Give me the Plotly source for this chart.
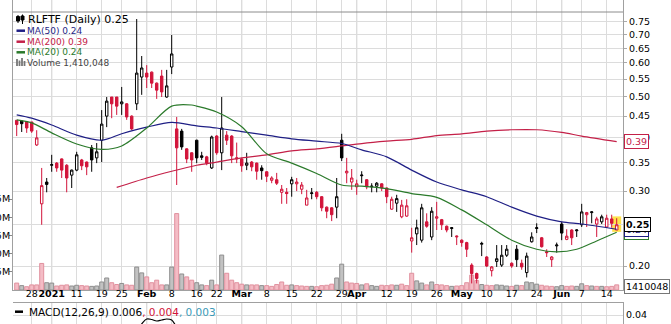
import numpy as np
import pandas as pd
import plotly.graph_objects as go

# ---------------- data ----------------
holidays = ["2020-12-25", "2021-01-01", "2021-01-18", "2021-02-15", "2021-04-02", "2021-05-31"]
dates = pd.bdate_range("2020-12-22", "2021-06-16", freq="C", holidays=holidays)

open_ = [0.440, 0.438, 0.437, 0.436, 0.385, 0.280, 0.315, 0.345, 0.349, 0.357,
         0.345, 0.327, 0.336, 0.355, 0.351, 0.379, 0.359, 0.395, 0.450, 0.499,
         0.499, 0.481, 0.481, 0.450, 0.481, 0.556, 0.568, 0.571, 0.538, 0.559,
         0.499, 0.587, 0.420, 0.415, 0.377, 0.369, 0.395, 0.363, 0.361, 0.340,
         0.404, 0.369, 0.406, 0.404, 0.357, 0.357, 0.345, 0.351, 0.349, 0.340,
         0.333, 0.318, 0.319, 0.298, 0.298, 0.312, 0.312, 0.303, 0.278, 0.296,
         0.298, 0.291, 0.275, 0.274, 0.275, 0.395, 0.331, 0.315, 0.307, 0.326,
         0.319, 0.307, 0.308, 0.312, 0.305, 0.272, 0.281, 0.261, 0.262, 0.229,
         0.238, 0.230, 0.254, 0.234, 0.259, 0.257, 0.248, 0.245, 0.234, 0.230,
         0.227, 0.201, 0.192, 0.225, 0.210, 0.195, 0.205, 0.201, 0.212, 0.203,
         0.219, 0.203, 0.193, 0.228, 0.245, 0.233, 0.216, 0.207, 0.223, 0.251,
         0.231, 0.243, 0.242, 0.250, 0.264, 0.267, 0.251, 0.254, 0.247, 0.258,
         0.243]
high_ = [0.440, 0.438, 0.438, 0.436, 0.417, 0.340, 0.322, 0.365, 0.351, 0.358,
         0.347, 0.337, 0.371, 0.357, 0.352, 0.385, 0.389, 0.465, 0.499, 0.499,
         0.499, 0.527, 0.483, 0.452, 0.761, 0.623, 0.593, 0.573, 0.540, 0.578,
         0.578, 0.698, 0.448, 0.420, 0.378, 0.370, 0.396, 0.371, 0.363, 0.405,
         0.406, 0.499, 0.415, 0.406, 0.390, 0.359, 0.369, 0.353, 0.350, 0.345,
         0.334, 0.325, 0.331, 0.310, 0.305, 0.324, 0.322, 0.315, 0.302, 0.305,
         0.300, 0.292, 0.276, 0.275, 0.322, 0.409, 0.359, 0.338, 0.319, 0.334,
         0.320, 0.313, 0.315, 0.313, 0.306, 0.291, 0.294, 0.286, 0.287, 0.246,
         0.257, 0.280, 0.266, 0.275, 0.283, 0.258, 0.249, 0.247, 0.236, 0.231,
         0.228, 0.203, 0.193, 0.228, 0.211, 0.200, 0.224, 0.224, 0.224, 0.204,
         0.224, 0.207, 0.215, 0.240, 0.252, 0.234, 0.219, 0.211, 0.227, 0.254,
         0.244, 0.244, 0.244, 0.280, 0.268, 0.269, 0.261, 0.264, 0.264, 0.264,
         0.259]
low_ = [0.404, 0.413, 0.411, 0.411, 0.383, 0.250, 0.298, 0.333, 0.333, 0.322,
        0.298, 0.305, 0.334, 0.336, 0.327, 0.333, 0.349, 0.351, 0.424, 0.445,
        0.453, 0.453, 0.441, 0.417, 0.465, 0.505, 0.524, 0.524, 0.494, 0.499,
        0.497, 0.565, 0.310, 0.375, 0.349, 0.333, 0.349, 0.355, 0.345, 0.338,
        0.365, 0.336, 0.385, 0.349, 0.349, 0.333, 0.336, 0.334, 0.319, 0.319,
        0.315, 0.313, 0.310, 0.280, 0.280, 0.291, 0.300, 0.295, 0.278, 0.287,
        0.287, 0.269, 0.259, 0.255, 0.259, 0.353, 0.313, 0.302, 0.294, 0.313,
        0.303, 0.298, 0.298, 0.300, 0.281, 0.271, 0.268, 0.259, 0.261, 0.215,
        0.224, 0.227, 0.246, 0.230, 0.243, 0.243, 0.240, 0.234, 0.224, 0.222,
        0.210, 0.182, 0.182, 0.211, 0.199, 0.189, 0.199, 0.199, 0.210, 0.198,
        0.199, 0.196, 0.188, 0.227, 0.239, 0.221, 0.210, 0.199, 0.215, 0.230,
        0.230, 0.224, 0.234, 0.247, 0.247, 0.252, 0.234, 0.251, 0.246, 0.246,
        0.243]
close_ = [0.430, 0.432, 0.422, 0.415, 0.400, 0.309, 0.311, 0.346, 0.340, 0.336,
          0.322, 0.336, 0.365, 0.344, 0.342, 0.355, 0.371, 0.431, 0.488, 0.481,
          0.475, 0.486, 0.448, 0.420, 0.568, 0.584, 0.556, 0.538, 0.518, 0.513,
          0.530, 0.630, 0.379, 0.381, 0.357, 0.355, 0.359, 0.360, 0.349, 0.402,
          0.369, 0.422, 0.395, 0.363, 0.359, 0.344, 0.349, 0.342, 0.334, 0.335,
          0.325, 0.322, 0.313, 0.303, 0.296, 0.319, 0.315, 0.310, 0.289, 0.297,
          0.291, 0.274, 0.269, 0.264, 0.291, 0.359, 0.334, 0.322, 0.312, 0.327,
          0.307, 0.308, 0.313, 0.305, 0.291, 0.287, 0.288, 0.278, 0.277, 0.233,
          0.246, 0.274, 0.248, 0.269, 0.261, 0.250, 0.243, 0.246, 0.235, 0.227,
          0.219, 0.192, 0.187, 0.226, 0.200, 0.199, 0.208, 0.212, 0.219, 0.200,
          0.207, 0.199, 0.211, 0.234, 0.246, 0.222, 0.215, 0.210, 0.224, 0.239,
          0.235, 0.233, 0.243, 0.268, 0.267, 0.268, 0.258, 0.261, 0.259, 0.252,
          0.250]
volume_m = [1.9, 1.2, 0.9, 1.4, 1.4, 7.3, 2.0, 1.9, 1.1, 1.3,
            1.4, 1.1, 1.3, 1.2, 1.1, 1.0, 1.1, 2.2, 3.3, 2.0,
            1.5, 1.8, 1.4, 1.3, 6.3, 4.7, 3.6, 2.0, 2.7, 1.4,
            1.4, 6.3, 21.0, 4.4, 3.6, 2.7, 2.0, 1.4, 1.2, 2.7,
            1.4, 9.6, 4.6, 2.7, 2.0, 1.6, 1.4, 1.4, 1.4, 1.2,
            1.2, 1.0, 1.5, 2.2, 1.3, 1.4, 1.2, 1.1, 1.0, 1.0,
            0.9, 1.2, 1.3, 1.6, 3.3, 7.1, 2.2, 1.9, 1.8, 1.4,
            1.7, 1.2, 1.0, 1.3, 1.2, 1.4, 1.3, 1.6, 1.2, 4.6,
            2.5, 1.9, 1.4, 2.2, 1.5, 1.4, 1.2, 1.0, 1.1, 1.2,
            2.0, 4.1, 2.6, 1.5, 1.3, 1.2, 1.4, 1.3, 1.1, 1.0,
            1.3, 1.2, 2.2, 2.0, 1.6, 1.3, 1.1, 1.0, 0.9, 1.2,
            1.0, 1.1, 1.0, 1.7, 1.2, 1.1, 1.0, 1.0, 0.9, 1.0,
            1.410048]

ma50_dates = ["2020-12-22", "2020-12-28", "2021-01-04", "2021-01-11", "2021-01-19", "2021-01-25",
              "2021-02-01", "2021-02-08", "2021-02-16", "2021-02-22", "2021-03-01", "2021-03-08",
              "2021-03-15", "2021-03-22", "2021-03-29", "2021-04-05", "2021-04-12", "2021-04-19",
              "2021-04-26", "2021-05-03", "2021-05-10", "2021-05-17", "2021-05-24", "2021-06-01",
              "2021-06-07", "2021-06-16"]
ma50 = [0.453, 0.445, 0.429, 0.406, 0.395, 0.409, 0.424, 0.435, 0.427, 0.422, 0.414, 0.406,
        0.398, 0.393, 0.388, 0.375, 0.361, 0.336, 0.315, 0.302, 0.291, 0.275, 0.262, 0.254,
        0.251, 0.244]

ma20_dates = ["2020-12-22", "2020-12-28", "2021-01-04", "2021-01-11", "2021-01-19", "2021-01-25",
              "2021-02-01", "2021-02-08", "2021-02-12", "2021-02-16", "2021-02-22", "2021-03-01",
              "2021-03-08", "2021-03-15", "2021-03-22", "2021-03-29", "2021-04-05", "2021-04-12",
              "2021-04-19", "2021-04-26", "2021-05-03", "2021-05-10", "2021-05-17", "2021-05-24",
              "2021-05-28", "2021-06-04", "2021-06-10", "2021-06-16"]
ma20 = [0.441, 0.434, 0.411, 0.387, 0.376, 0.383, 0.422, 0.475, 0.478, 0.475, 0.460, 0.425,
        0.367, 0.349, 0.330, 0.310, 0.308, 0.304, 0.296, 0.290, 0.271, 0.250, 0.230, 0.219,
        0.216, 0.219, 0.229, 0.240]

ma200_dates = ["2021-01-22", "2021-02-01", "2021-02-08", "2021-02-16", "2021-02-22", "2021-03-01",
               "2021-03-08", "2021-03-15", "2021-03-22", "2021-03-29", "2021-04-05", "2021-04-12",
               "2021-04-19", "2021-04-26", "2021-05-03", "2021-05-10", "2021-05-17", "2021-05-24",
               "2021-06-01", "2021-06-07", "2021-06-16"]
ma200 = [0.306, 0.322, 0.334, 0.345, 0.351, 0.359, 0.365, 0.373, 0.377, 0.383, 0.388, 0.393,
         0.397, 0.405, 0.409, 0.415, 0.418, 0.418, 0.412, 0.404, 0.392]

macd_dates = ["2021-01-27", "2021-01-28", "2021-01-29", "2021-02-01", "2021-02-02", "2021-02-03",
              "2021-02-04", "2021-02-05", "2021-02-08", "2021-02-09", "2021-02-10"]
macd = [0.018, 0.024, 0.031, 0.036, 0.0355, 0.034, 0.035, 0.036, 0.035, 0.028, 0.024]

tick_dates = ["2020-12-28", "2021-01-04", "2021-01-11", "2021-01-19", "2021-01-25", "2021-02-01",
              "2021-02-08", "2021-02-16", "2021-02-22", "2021-03-01", "2021-03-08", "2021-03-15",
              "2021-03-22", "2021-03-29", "2021-04-01", "2021-04-12", "2021-04-19", "2021-04-26",
              "2021-05-03", "2021-05-10", "2021-05-17", "2021-05-24", "2021-06-01", "2021-06-07",
              "2021-06-14"]
tick_labels = ["28", "<b>2021</b>", "11", "19", "25", "<b>Feb</b>", "8", "16", "22", "<b>Mar</b>",
               "8", "15", "22", "29", "<b>Apr</b>", "12", "19", "26", "<b>May</b>", "10", "17",
               "24", "<b>Jun</b>", "7", "14"]
month_dates = ["2021-01-04", "2021-02-01", "2021-03-01", "2021-04-01", "2021-05-03", "2021-06-01"]

price_ticks = [0.20, 0.25, 0.30, 0.35, 0.40, 0.45, 0.50, 0.55, 0.60, 0.65, 0.70, 0.75]
vol_ticks_m = [5, 10, 15, 20, 25]

# ---------------- derived ----------------
pos = {d.strftime("%Y-%m-%d"): i for i, d in enumerate(dates)}
n = len(dates)
xi = np.arange(n)
o = np.array(open_); h = np.array(high_); l = np.array(low_); c = np.array(close_)
vol = np.array(volume_m) * 1e6
prev = np.concatenate([[o[0]], c[:-1]])
up = c >= prev
dn = ~up

RED = "#d2143a"
NAVY = "#1f1f85"
CRIMSON = "#c42048"
GREEN = "#2b7a2b"
GRID = "#dcdcdc"
FONT = "DejaVu Sans, Verdana, sans-serif"

W, H = 671.0, 324.0
ML, MR = 13, 48
PW = W - ML - MR


def py(px):
    return 1 - px / H


def pxx(px):
    return (px - ML) / PW


fig = go.Figure()

# volume
fig.add_trace(go.Bar(x=xi[up], y=vol[up], width=0.8,
                     marker=dict(color="#c2c2c2", line=dict(color="#8e8e8e", width=1)),
                     xaxis="x", yaxis="y", hoverinfo="skip"))
fig.add_trace(go.Bar(x=xi[dn], y=vol[dn], width=0.8,
                     marker=dict(color="#f4bcc5", line=dict(color="#e0909e", width=1)),
                     xaxis="x", yaxis="y", hoverinfo="skip"))

# candles
for mask, col in ((up, "black"), (dn, RED)):
    fig.add_trace(go.Candlestick(
        x=xi[mask], open=o[mask], high=h[mask], low=l[mask], close=c[mask],
        increasing=dict(line=dict(color=col, width=1), fillcolor="white"),
        decreasing=dict(line=dict(color=col, width=1), fillcolor=col),
        whiskerwidth=0, xaxis="x", yaxis="y2", hoverinfo="skip"))

# moving averages
for dts, vals, col in ((ma200_dates, ma200, CRIMSON), (ma50_dates, ma50, NAVY), (ma20_dates, ma20, GREEN)):
    fig.add_trace(go.Scatter(x=[pos[d] for d in dts], y=vals, mode="lines",
                             line=dict(color=col, width=1.2, shape="spline", smoothing=0.8),
                             xaxis="x", yaxis="y2", hoverinfo="skip"))

# MACD
fig.add_trace(go.Scatter(x=[pos[d] for d in macd_dates], y=macd, mode="lines",
                         line=dict(color="black", width=1.2, shape="spline"),
                         xaxis="x2", yaxis="y3", hoverinfo="skip"))

xr = [-0.74, 121.26]
tickpos = [pos[d] for d in tick_dates]

fig.update_layout(
    width=671, height=324, margin=dict(l=ML, r=MR, t=0, b=0, autoexpand=False),
    paper_bgcolor="white", plot_bgcolor="white", showlegend=False, barmode="overlay",
    font=dict(family=FONT, size=9.5, color="black"),
    xaxis=dict(domain=[0, 1], range=xr, anchor="y", tickmode="array", tickvals=tickpos, ticktext=tick_labels,
               showgrid=True, gridcolor=GRID, gridwidth=1, zeroline=False, showline=True, linecolor="#a0a0a0",
               ticks="", tickangle=0, ticklabelstandoff=-5, automargin=False,
               tickfont=dict(size=9.5, family=FONT), rangeslider=dict(visible=False)),
    yaxis=dict(domain=[py(290), 1], range=[0, 79.7e6], side="left", tickmode="array",
               tickvals=[v * 1e6 for v in vol_ticks_m], ticktext=[f"{v}M" for v in vol_ticks_m],
               ticks="outside", ticklen=3, tickcolor="#888", showgrid=False, zeroline=False, automargin=False,
               ticklabelstandoff=-3,
               showline=True, linecolor="#a0a0a0", tickfont=dict(size=9.5, family=FONT)),
    yaxis2=dict(overlaying="y", side="right", type="log", automargin=False,
                range=[np.log10(0.17564), np.log10(0.8436)], tickmode="array",
                tickvals=price_ticks, ticktext=[f"{v:.2f}" for v in price_ticks],
                showgrid=True, gridcolor=GRID, zeroline=False, showline=True, linecolor="#a0a0a0",
                ticks="outside", ticklen=3, tickcolor="#aaa", tickfont=dict(size=9.5, family=FONT)),
    xaxis2=dict(domain=[0, 1], anchor="y3", matches="x", range=xr, tickmode="array", tickvals=tickpos,
                showticklabels=False, showgrid=True, gridcolor=GRID, zeroline=False, showline=True,
                mirror=True, linecolor="#a0a0a0", ticks="", automargin=False, rangeslider=dict(visible=False)),
    yaxis3=dict(domain=[0, py(303)], anchor="x2", range=[0.031, 0.052], side="right", tickmode="array",
                tickvals=[0.04], ticktext=["0.04"], showgrid=True, gridcolor=GRID, zeroline=False,
                automargin=False, showline=True, linecolor="#a0a0a0", ticks="",
                tickfont=dict(size=9.5, family=FONT)),
)

shapes = []
# darker month grid lines
for d in month_dates:
    for yref in ("y domain", "y3 domain"):
        shapes.append(dict(type="line", xref="x", yref=yref, x0=pos[d], x1=pos[d], y0=0, y1=1,
                           line=dict(color="#b4b4b4", width=1), layer="below"))
# panel top border
shapes.append(dict(type="line", xref="x domain", yref="paper", x0=0, x1=1, y0=py(12), y1=py(12),
                   line=dict(color="#8c8c8c", width=1)))
# highlight of last candle
shapes.append(dict(type="rect", xref="x", yref="y2", x0=xi[-1] - 0.9, x1=xi[-1] + 0.9,
                   y0=l[-1] * 0.99, y1=h[-1] * 1.01, fillcolor="#ffe34d", line=dict(width=0), layer="below"))
# legend dashes
for ypix, col in ((30.7, NAVY), (41.7, CRIMSON), (52.3, GREEN)):
    shapes.append(dict(type="line", xref="paper", yref="paper", x0=pxx(16.5), x1=pxx(25), y0=py(ypix),
                       y1=py(ypix), line=dict(color=col, width=2.5)))
# volume legend icon
for xa, top in ((17, 59), (19.5, 60.5), (22, 58), (24.5, 61)):
    shapes.append(dict(type="rect", xref="paper", yref="paper", x0=pxx(xa - 0.9), x1=pxx(xa + 0.9),
                       y0=py(66), y1=py(top), fillcolor="#777", line=dict(width=0)))
# price legend icon (mini candles)
for xa, t, b, wt, wb in ((18, 16.5, 21, 15, 23), (22.5, 16, 20, 14.5, 24)):
    shapes.append(dict(type="line", xref="paper", yref="paper", x0=pxx(xa), x1=pxx(xa), y0=py(wb), y1=py(wt),
                       line=dict(color="black", width=1)))
    shapes.append(dict(type="rect", xref="paper", yref="paper", x0=pxx(xa - 1.5), x1=pxx(xa + 1.5),
                       y0=py(b), y1=py(t), fillcolor="black", line=dict(color="black", width=1)))
# MACD legend dash
shapes.append(dict(type="line", xref="paper", yref="paper", x0=pxx(15), x1=pxx(23), y0=py(311.7), y1=py(311.7),
                   line=dict(color="black", width=2.5)))
fig.update_layout(shapes=shapes)

ann = []
ann.append(dict(text="RLFTF (Daily) 0.25", xref="paper", yref="paper", x=pxx(26), y=py(19.3), xanchor="left",
                yanchor="middle", showarrow=False, font=dict(size=11, family=FONT, color="black")))
for txt, ypix, col in (("MA(50) 0.24", 30.7, NAVY), ("MA(200) 0.39", 41.7, CRIMSON), ("MA(20) 0.24", 52.3, GREEN),
                       ("Volume 1,410,048", 62.7, "#444444")):
    ann.append(dict(text=txt, xref="paper", yref="paper", x=pxx(24.5), y=py(ypix), xanchor="left",
                    yanchor="middle", showarrow=False, font=dict(size=9, family=FONT, color=col)))
ann.append(dict(text="MACD(12,26,9) 0.006<span style='color:#d2143a'>, 0.004</span>"
                     "<span style='color:#3a9ab8'>, 0.003</span>",
                xref="paper", yref="paper", x=pxx(27), y=py(311.7), xanchor="left", yanchor="middle",
                showarrow=False, font=dict(size=10.5, family=FONT, color="black")))
# right side value boxes
xbox = pxx(624)
ann.append(dict(text=f"{ma200[-1]:.2f}", xref="paper", yref="y2", x=xbox, y=np.log10(ma200[-1]), xanchor="left",
                yanchor="middle", showarrow=False, bgcolor="white", bordercolor=CRIMSON, borderwidth=1,
                borderpad=1, font=dict(size=9.5, family=FONT, color=CRIMSON)))
ann.append(dict(text=f"{ma20[-1]:.2f}", xref="paper", yref="y2", x=xbox, y=np.log10(ma20[-1]), xanchor="left",
                yanchor="middle", showarrow=False, bgcolor="white", bordercolor=GREEN, borderwidth=1,
                borderpad=1, font=dict(size=9.5, family=FONT, color=GREEN)))
ann.append(dict(text=f"{ma50[-1]:.2f}", xref="paper", yref="y2", x=xbox, y=np.log10(ma50[-1]), xanchor="left",
                yanchor="middle", showarrow=False, bgcolor="white", bordercolor=NAVY, borderwidth=1,
                borderpad=1, font=dict(size=9.5, family=FONT, color=NAVY)))
ann.append(dict(text=f"<b>{close_[-1]:.2f}</b>", xref="paper", yref="y2", x=xbox, y=np.log10(close_[-1]),
                xanchor="left", yanchor="middle", showarrow=False, bgcolor="white", bordercolor="black",
                borderwidth=1, borderpad=1, font=dict(size=9.5, family=FONT, color="black")))
ann.append(dict(text=f"{int(round(volume_m[-1] * 1e6))}", xref="paper", yref="y", x=xbox, y=vol[-1], yshift=-2,
                xanchor="left", yanchor="middle", showarrow=False, bgcolor="white", bordercolor="#777",
                borderwidth=1, borderpad=1, font=dict(size=9.5, family=FONT, color="black")))
fig.update_layout(annotations=ann)

fig.write_html("out.html")
